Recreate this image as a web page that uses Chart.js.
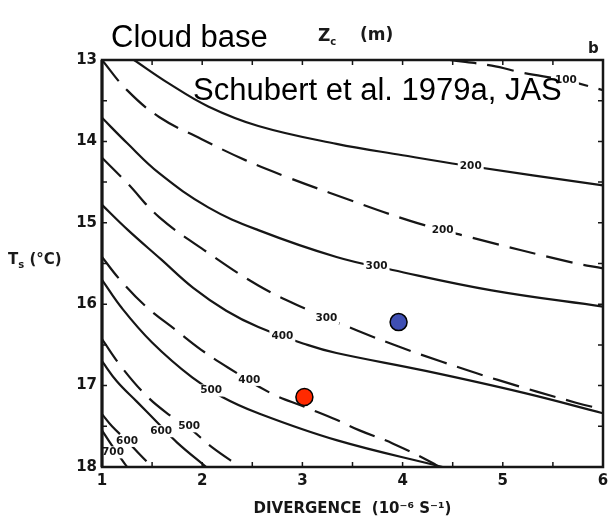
<!DOCTYPE html>
<html>
<head>
<meta charset="utf-8">
<script src="https://cdn.jsdelivr.net/npm/chart.js@4.4.0/dist/chart.umd.min.js"></script>
<style>
  body { margin: 0; background: #fff; }
  #wrap { position: relative; width: 613px; height: 521px; overflow: hidden; }
  #chart { position: absolute; left: 0; top: 0; }
  .txt { position: absolute; white-space: nowrap; line-height: 1; color: #000; }
  .big { font-family: 'Liberation Sans', Arial, sans-serif; font-size: 31px; }
  .scan { font-family: 'DejaVu Sans', sans-serif; font-weight: bold; color: #1a1a1a; }
</style>
</head>
<body>
<div id="wrap">
  <canvas id="chart" width="613" height="521"></canvas>
  <div class="txt big" style="left:111px;top:21px">Cloud base</div>
  <div class="txt scan" style="left:318px;top:27px;font-size:17px">Z<sub style="font-size:10px">c</sub></div>
  <div class="txt scan" style="left:360px;top:26px;font-size:17px">(m)</div>
  <div class="txt scan" style="left:588px;top:41px;font-size:15px">b</div>
  <div class="txt scan" style="left:8px;top:252px;font-size:15px">T<sub style="font-size:10px">s</sub> (°C)</div>
  <div class="txt big" style="left:193px;top:74px">Schubert et al. 1979a, JAS</div>
</div>
<script>
// contours: [divergence, Ts]
const solid200 = [[1.32, 13.0], [1.67, 13.29], [2.06, 13.57], [2.56, 13.81], [3.34, 14.03], [4.0, 14.17], [4.6, 14.29], [6.0, 14.54]];
const solid300 = [[1.0, 13.71], [1.25, 14.02], [1.57, 14.39], [2.06, 14.81], [2.56, 15.09], [3.34, 15.42], [3.9, 15.58], [4.89, 15.83], [6.0, 16.03]];
const solid400 = [[1.0, 14.78], [1.26, 15.09], [1.59, 15.45], [1.91, 15.8], [2.24, 16.08], [2.56, 16.28], [3.05, 16.5], [3.34, 16.6], [4.23, 16.82], [5.21, 17.09], [6.0, 17.34]];
const solid500 = [[1.0, 15.7], [1.2, 16.05], [1.5, 16.47], [1.9, 16.9], [2.2, 17.14], [2.56, 17.34], [3.34, 17.67], [4.4, 18.0]];
const solid600 = [[1.0, 16.7], [1.15, 16.95], [1.35, 17.2], [1.55, 17.45], [1.75, 17.7], [2.04, 18.0]];
const solid700 = [[1.0, 17.55], [1.08, 17.7], [1.18, 17.88], [1.25, 18.0]];

const dashed100 = [[4.47, 13.0], [4.89, 13.07], [5.21, 13.16], [5.63, 13.25], [6.0, 13.37]];
const dashed200 = [[1.0, 13.0], [1.25, 13.37], [1.57, 13.7], [1.99, 13.97], [2.43, 14.23], [2.85, 14.44], [3.27, 14.63], [4.06, 14.97], [4.65, 15.17], [5.7, 15.49], [6.0, 15.56]];
const dashed300 = [[1.0, 14.2], [1.25, 14.51], [1.57, 14.93], [2.06, 15.37], [2.56, 15.77], [3.02, 16.05], [3.54, 16.32], [3.96, 16.52], [4.4, 16.71], [4.95, 16.93], [5.73, 17.21], [6.0, 17.29]];
const dashed400 = [[1.0, 15.42], [1.18, 15.7], [1.44, 16.03], [1.74, 16.32], [1.99, 16.56], [2.26, 16.78], [2.68, 17.09], [3.02, 17.26], [3.34, 17.42], [3.57, 17.55], [3.9, 17.71], [4.3, 17.95], [4.36, 18.0]];
const dashed500 = [[1.0, 16.43], [1.2, 16.78], [1.44, 17.12], [1.65, 17.34], [1.87, 17.52], [2.1, 17.76], [2.38, 18.0]];
const dashed600 = [[1.0, 17.35], [1.1, 17.5], [1.25, 17.68], [1.38, 17.85], [1.5, 18.0]];

// contour labels: [text, divergence, Ts]
const contourLabels = [
  ['200', 4.68, 14.31], ['100', 5.63, 13.25], ['200', 4.4, 15.09],
  ['300', 3.74, 15.53], ['300', 3.24, 16.17], ['400', 2.8, 16.39],
  ['400', 2.47, 16.93], ['500', 2.09, 17.06], ['500', 1.87, 17.5],
  ['600', 1.59, 17.56], ['600', 1.25, 17.68], ['700', 1.11, 17.82],
];

const redPoint = [[3.02, 17.14]];
const bluePoint = [[3.96, 16.22]];

const xTicks = [1, 2, 3, 4, 5, 6];
const yTicks = [13, 14, 15, 16, 17, 18];

const INK = '#161616';
const toXY = arr => arr.map(p => ({ x: p[0], y: p[1] }));

function contour(data, dashed) {
  return {
    data: toXY(data),
    showLine: true,
    pointRadius: 0,
    borderColor: INK,
    borderWidth: 2.2,
    borderDash: dashed ? [27, 11] : [],
    tension: 0.4,
    fill: false,
  };
}

const contourLabelPlugin = {
  id: 'contourLabels',
  afterDatasetsDraw(chart) {
    const { ctx, scales: { x, y } } = chart;
    ctx.save();
    ctx.font = 'bold 10.5px "DejaVu Sans"';
    ctx.textAlign = 'center';
    ctx.textBaseline = 'middle';
    contourLabels.forEach(([text, dv, ts]) => {
      const px = x.getPixelForValue(dv);
      const py = y.getPixelForValue(ts);
      const w = ctx.measureText(text).width + 4;
      ctx.fillStyle = '#fff';
      ctx.fillRect(px - w / 2, py - 6, w, 12);
      ctx.fillStyle = INK;
      ctx.fillText(text, px, py);
    });
    ctx.restore();
  },
};

const framePlugin = {
  id: 'frameTicks',
  afterDraw(chart) {
    const { ctx, chartArea: a, scales: { x, y } } = chart;
    ctx.save();
    ctx.strokeStyle = INK;
    ctx.lineWidth = 1.5;
    ctx.beginPath();
    for (let v = 1; v <= 6.001; v += 0.5) {
      const px = x.getPixelForValue(v);
      ctx.moveTo(px, a.bottom); ctx.lineTo(px, a.bottom - 5);
      ctx.moveTo(px, a.top); ctx.lineTo(px, a.top + 5);
    }
    for (let v = 13; v <= 18.001; v += 0.5) {
      const py = y.getPixelForValue(v);
      ctx.moveTo(a.left, py); ctx.lineTo(a.left + 5, py);
      ctx.moveTo(a.right, py); ctx.lineTo(a.right - 5, py);
    }
    ctx.stroke();
    ctx.lineWidth = 2.5;
    ctx.strokeRect(a.left, a.top, a.right - a.left, a.bottom - a.top);
    ctx.lineWidth = 3;
    ctx.beginPath();
    ctx.moveTo(a.left, a.top); ctx.lineTo(a.left, a.bottom);
    ctx.stroke();
    ctx.restore();
  },
};

const tickFont = { family: 'DejaVu Sans', size: 15, weight: 'bold' };

new Chart(document.getElementById('chart'), {
  type: 'scatter',
  data: {
    datasets: [
      contour(solid200, false), contour(solid300, false), contour(solid400, false),
      contour(solid500, false), contour(solid600, false), contour(solid700, false),
      contour(dashed100, true), contour(dashed200, true), contour(dashed300, true),
      contour(dashed400, true), contour(dashed500, true), contour(dashed600, true),
      {
        data: toXY(redPoint), pointRadius: 8.5, pointBackgroundColor: '#ff2a00',
        pointBorderColor: '#000', pointBorderWidth: 1.5,
      },
      {
        data: toXY(bluePoint), pointRadius: 8.5, pointBackgroundColor: '#3f4fb3',
        pointBorderColor: '#000', pointBorderWidth: 1.5,
      },
    ],
  },
  options: {
    responsive: false,
    animation: false,
    events: [],
    layout: { padding: { top: 60, right: 3, left: 0, bottom: 0 } },
    plugins: { legend: { display: false }, tooltip: { enabled: false }, title: { display: false } },
    scales: {
      x: {
        type: 'linear',
        min: 1,
        max: 6,
        afterBuildTicks: scale => { scale.ticks = xTicks.map(v => ({ value: v })); },
        ticks: { color: INK, font: tickFont, padding: 5 },
        grid: { display: false, drawTicks: false },
        border: { display: false },
        title: {
          display: true,
          text: 'DIVERGENCE  (10⁻⁶ S⁻¹)',
          color: INK,
          font: { family: 'DejaVu Sans', size: 15, weight: 'bold' },
          padding: { top: 0, bottom: 3 },
        },
        afterFit: scale => {
          scale.height = 54;
          scale.paddingLeft = 0;
          scale.paddingRight = 0;
        },
      },
      y: {
        type: 'linear',
        reverse: true,
        min: 13,
        max: 18,
        afterBuildTicks: scale => { scale.ticks = yTicks.map(v => ({ value: v })); },
        ticks: { color: INK, font: tickFont, padding: 5 },
        grid: { display: false, drawTicks: false },
        border: { display: false },
        afterFit: scale => {
          scale.width = 102;
          scale.paddingTop = 0;
          scale.paddingBottom = 0;
        },
      },
    },
  },
  plugins: [contourLabelPlugin, framePlugin],
});
</script>
</body>
</html>
